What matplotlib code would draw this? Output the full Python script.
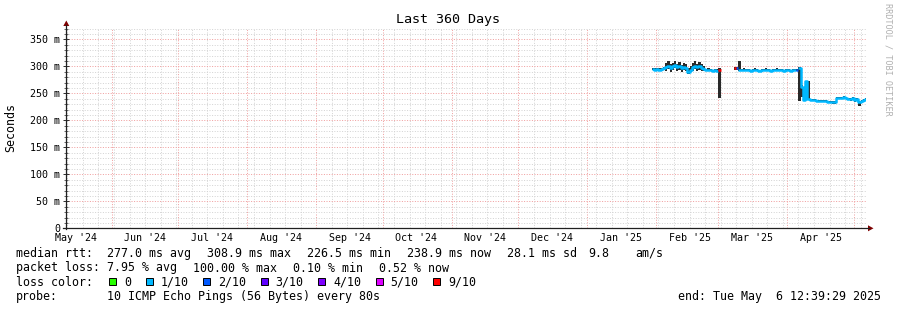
# smokeping style "Last 360 Days" latency graph
import numpy as np
import pandas as pd
import matplotlib
matplotlib.use("Agg")
import matplotlib.pyplot as plt
import matplotlib.dates as mdates
from matplotlib.lines import Line2D
from matplotlib.patches import Rectangle, Polygon
from matplotlib.ticker import MultipleLocator, FuncFormatter, NullLocator

plt.rcParams['font.family'] = ['DejaVu Sans Mono']

W, H = 897, 310

graph_start = pd.Timestamp("2024-05-11 12:39:29")
graph_end = pd.Timestamp("2025-05-06 12:39:29")
first_day = "2025-01-30"

nan = np.nan

# daily median rtt in ms, Jan 30 2025 .. May 6 2025
rtt_median = [
    # Jan 30 - Feb 4
    295, 294, 295, 294, 295, 296,
    # Feb 5 - Feb 22
    298, 301, 297, 300, 302, 298, 300, 297, 299, 296, 289, 293, 299, 301, 298, 300, 297, 295,
    # Feb 23 - Feb 28
    293, 294, 293, 292, 293, 292,
    # Mar 1, then Mar 2 - 7 no data
    294, nan, nan, nan, nan, nan, nan,
    # Mar 8 - Mar 10
    296, 296, 294,
    # Mar 11 - Mar 31
    293, 294, 293, 293, 292, 293, 294, 293, 292, 293, 293, 294, 293, 292, 293, 293, 294, 293, 293, 292, 293,
    # Apr 1 - Apr 10
    293, 292, 293, 293, 293, 297, 262, 238, 272, 240,
    # Apr 11 - Apr 22
    238, 237, 237, 236, 236, 236, 235, 235, 234, 234, 233, 233,
    # Apr 23 - May 6
    242, 242, 241, 243, 241, 240, 239, 241, 237, 240, 233, 236, 238, 239,
]

smoke_lo = [
    293, 292, 293, 292, 293, 294,
    292, 295, 290, 294, 296, 291, 294, 290, 293, 291, 286, 289, 292, 295, 291, 294, 291, 292,
    291, 292, 291, 290, 291, 290,
    241, nan, nan, nan, nan, nan, nan,
    294, 294, 292,
    291, 292, 291, 291, 290, 291, 292, 291, 290, 291, 291, 292, 291, 290, 291, 291, 292, 291, 291, 290, 291,
    291, 290, 291, 291, 291, 235, 244, 236, 237, 237,
    236, 235, 235, 234, 234, 234, 233, 233, 232, 232, 231, 231,
    240, 240, 239, 241, 239, 238, 236, 238, 234, 237, 227, 234, 236, 237,
]

smoke_hi = [
    297, 296, 297, 296, 297, 299,
    306, 309, 304, 307, 310, 305, 308, 303, 307, 304, 296, 300, 307, 309, 305, 308, 304, 300,
    295, 296, 295, 294, 295, 295,
    296, nan, nan, nan, nan, nan, nan,
    298, 298, 310,
    295, 296, 295, 295, 294, 295, 296, 295, 294, 295, 295, 296, 295, 294, 295, 295, 296, 295, 295, 294, 295,
    295, 294, 295, 295, 295, 298, 266, 250, 273, 272,
    240, 239, 239, 238, 238, 238, 237, 237, 236, 236, 235, 235,
    244, 244, 243, 245, 243, 242, 242, 243, 241, 242, 236, 238, 240, 241,
]

# index into loss_labels for each day
loss_bucket = (
    [1] * 30          # Jan 30 - Feb 28
    + [6] + [1] * 6   # Mar 1 (heavy loss), gap
    + [6, 2, 1]       # Mar 8 - 10
    + [1] * 21        # Mar 11 - 31
    + [1, 1, 1, 1, 2, 1, 1, 1, 1, 1]  # Apr 1 - 10
    + [1] * 12
    + [1] * 14
)

loss_labels = ['0', '1/10', '2/10', '3/10', '4/10', '5/10', '9/10']
loss_colors = ['#26ff00', '#00b8ff', '#0059ff', '#5e00ff', '#7e00ff', '#dd00ff', '#ff0000']

rtt_stats = ["277.0 ms avg", "308.9 ms max", "226.5 ms min", "238.9 ms now", "28.1 ms sd", "9.8", "am/s"]
rtt_stats_x = [107, 207, 307, 407, 507, 588, 635]
loss_stats = ["7.95 % avg", "100.00 % max", "0.10 % min", "0.52 % now"]
loss_stats_x = [107, 193, 293, 379]
probe_text = "10 ICMP Echo Pings (56 Bytes) every 80s"
end_text = "end: Tue May  6 12:39:29 2025"


def fx(px):
    return px / W


def fy(py):
    return 1 - py / H


fig = plt.figure(figsize=(W / 100, H / 100), dpi=100, facecolor='white')
ax = fig.add_axes([fx(66.3), fy(228.3), 800 / W, 200 / H])
ax.set_facecolor('white')

x0 = mdates.date2num(graph_start)
x1 = mdates.date2num(graph_end)
ax.set_xlim(x0, x1)
ax.set_ylim(0, 370.4)

minor_col = '#d4d4d4'
major_col = '#f0a0a0'
dots = (0, (1, 1.6))

# vertical grid: weeks (gray) and month starts (red)
month_starts = pd.date_range(graph_start.normalize(), graph_end, freq='MS')
for d in pd.date_range(graph_start.normalize(), graph_end, freq='W-SUN'):
    if d in month_starts:
        continue
    ax.axvline(mdates.date2num(d), color=minor_col, ls=dots, lw=0.72, zorder=0)
for d in month_starts:
    ax.axvline(mdates.date2num(d), color=major_col, ls=dots, lw=0.72, zorder=0)

ax.yaxis.set_major_locator(MultipleLocator(50))
ax.yaxis.set_minor_locator(MultipleLocator(10))
ax.yaxis.set_major_formatter(FuncFormatter(lambda v, p: "0" if v == 0 else f"{v:.0f} m"))
ax.grid(axis='y', which='major', color=major_col, ls=dots, lw=0.72, zorder=0)
ax.grid(axis='y', which='minor', color=minor_col, ls=dots, lw=0.72, zorder=0)
ax.set_axisbelow(True)

# month labels in the middle of each month
mids = [d + pd.Timedelta(days=15) for d in pd.date_range("2024-05-01", "2025-04-30", freq='MS')]
ax.set_xticks([mdates.date2num(d) for d in mids])
ax.set_xticklabels([d.strftime("%b '%y") for d in mids])
ax.xaxis.set_minor_locator(NullLocator())
ax.tick_params(axis='x', length=0, labelsize=7.2, pad=3.5)
ax.tick_params(axis='y', which='major', direction='inout', length=4, width=0.72,
               color='#333333', labelsize=7.2, pad=2.5)
ax.tick_params(axis='y', which='minor', direction='inout', length=2.5, width=0.72, color='#666666')
for s in ax.spines.values():
    s.set_visible(False)

# smoke and median line, drawn as steps of one day
days = mdates.date2num(pd.date_range(first_day, periods=len(rtt_median), freq='D'))
xs = np.column_stack([days, days + 1]).ravel()
med = np.array(rtt_median, dtype=float)
lo = np.array(smoke_lo, dtype=float)
hi = np.array(smoke_hi, dtype=float)
bucket = np.array(loss_bucket)

ax.fill_between(xs, np.repeat(lo, 2), np.repeat(hi, 2), color='#2a2a2a', lw=0, zorder=2)
for k, col in enumerate(loss_colors):
    y = np.where(bucket == k, med, nan)
    if np.all(np.isnan(y)):
        continue
    ax.plot(xs, np.repeat(y, 2), color=col, lw=1.8, solid_capstyle='butt', zorder=3)

# axis lines with arrows
axis_col = '#202020'
arrow_col = '#7f0000'
fig.add_artist(Line2D([fx(66.3), fx(66.3)], [fy(228.8), fy(25)], transform=fig.transFigure,
                      color=axis_col, lw=0.9))
fig.add_artist(Line2D([fx(63), fx(869)], [fy(228.3), fy(228.3)], transform=fig.transFigure,
                      color=axis_col, lw=0.9))
fig.add_artist(Polygon([[fx(66.3), fy(20.5)], [fx(63.3), fy(26)], [fx(69.3), fy(26)]],
                       closed=True, transform=fig.transFigure, color=arrow_col, lw=0))
fig.add_artist(Polygon([[fx(873.5), fy(228.3)], [fx(868), fy(225.3)], [fx(868), fy(231.3)]],
                       closed=True, transform=fig.transFigure, color=arrow_col, lw=0))

# titles
fig.text(fx(448), fy(20), "Last 360 Days", ha='center', va='center', fontsize=9.6)
fig.text(fx(11), fy(127.5), "Seconds", rotation=90, ha='center', va='center', fontsize=8.4)
fig.text(fx(887.5), fy(3), "RRDTOOL / TOBI OETIKER", rotation=270, ha='center', va='top',
         fontsize=6.1, color='#b0b0b0')

# legend block
fs = 8.4
fig.text(fx(16), fy(253.5), "median rtt:", fontsize=fs, va='center')
for t, x in zip(rtt_stats, rtt_stats_x):
    fig.text(fx(x), fy(253.5), t, fontsize=fs, va='center')
fig.text(fx(16), fy(268), "packet loss:", fontsize=fs, va='center')
for t, x in zip(loss_stats, loss_stats_x):
    fig.text(fx(x), fy(268), t, fontsize=fs, va='center')
fig.text(fx(16), fy(282), "loss color:", fontsize=fs, va='center')
bx = 109
for lab, col in zip(loss_labels, loss_colors):
    fig.add_artist(Rectangle((fx(bx), fy(284.5)), 7 / W, 7 / H, transform=fig.transFigure,
                             facecolor=col, edgecolor='black', lw=0.7))
    fig.text(fx(bx + 15), fy(282), lab, fontsize=fs, va='center')
    bx = bx + 15 + 7 * len(lab) + 14.5
fig.text(fx(16), fy(296.5), "probe:", fontsize=fs, va='center')
fig.text(fx(107), fy(296.5), probe_text, fontsize=fs, va='center')
fig.text(fx(678.3), fy(296.5), end_text, fontsize=fs, va='center')

fig.savefig("out.png", dpi=100, facecolor='white')
